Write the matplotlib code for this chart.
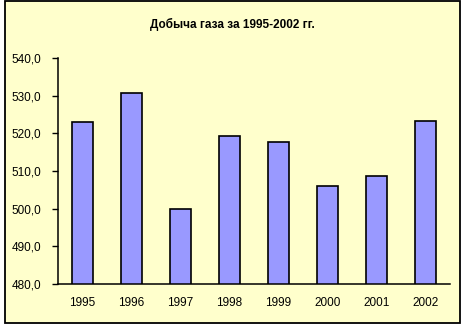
import matplotlib
matplotlib.use("Agg")
import matplotlib.pyplot as plt
from matplotlib.patches import Rectangle
from matplotlib.ticker import FuncFormatter

years = ["1995", "1996", "1997", "1998", "1999", "2000", "2001", "2002"]
gas = [523.0, 530.8, 499.8, 519.2, 517.8, 506.0, 508.6, 523.2]
yticks = [480, 490, 500, 510, 520, 530, 540]
title = "Добыча газа за 1995-2002 гг."

plt.rcParams["font.family"] = ["Liberation Sans", "DejaVu Sans"]

W, H = 466, 329
fig = plt.figure(figsize=(W / 100, H / 100), dpi=100)
fig.patch.set_facecolor("white")

# chart area frame
frame = Rectangle((5 / W, 1 - 323 / H), 455 / W, 322 / H,
                  transform=fig.transFigure, facecolor="#FFFFCC",
                  edgecolor="black", lw=1.3, zorder=-10)
fig.add_artist(frame)

ax = fig.add_axes([58 / W, 1 - 284 / H, 392 / W, 226 / H])
ax.set_facecolor("none")
x = range(len(years))
ax.bar(x, gas, width=0.41, color="#9999FF", edgecolor="black", lw=1.2, zorder=2)

ax.set_xlim(-0.5, len(years) - 0.5)
ax.set_ylim(480, 540)
ax.set_yticks(yticks)
ax.yaxis.set_major_formatter(FuncFormatter(lambda v, p: f"{v:.1f}".replace(".", ",")))
ax.set_xticks(list(x))
ax.set_xticklabels(years)

for s in ("top", "right"):
    ax.spines[s].set_visible(False)
for s in ("left", "bottom"):
    ax.spines[s].set_linewidth(1.1)
ax.tick_params(axis="y", direction="out", length=4, width=1, labelsize=8.5, pad=8)
ax.tick_params(axis="x", length=0, labelsize=8.5, pad=9)

fig.text(0.5 * (5 + 460) / W, 1 - 24 / H, title, ha="center", va="center",
         fontsize=8.5, fontweight="bold")

plt.savefig("out.png", dpi=100)
plt.close()
